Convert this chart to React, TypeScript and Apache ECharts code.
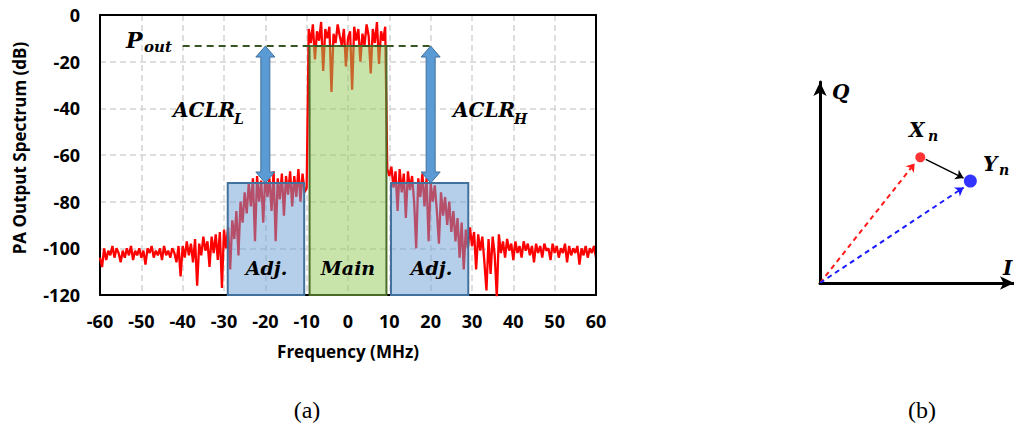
import React, { useEffect, useRef } from "react";
import * as echarts from "echarts";

// ---------- Panel (a): PA output spectrum, 0.5 MHz sample grid ----------
const FREQ_STEP = 0.5;

const farLeftStart = -60; // -60 .. -40.5
const farLeftDb = [-104, -108, -100, -105, -101, -103, -99, -104, -100, -102, -106, -101, -104, -100, -103, -99, -105, -101, -103, -100, -104, -101, -107, -100, -102, -99, -104, -101, -103, -100, -105, -99, -103, -101, -104, -100, -102, -106, -99, -112];

const nearLeftStart = -40; // -40 .. -30.5
const nearLeftDb = [-99, -104, -97, -103, -98, -106, -96, -116, -98, -103, -95, -101, -97, -108, -95, -102, -94, -105, -93, -117];

const adjLeftStart = -30; // -30 .. -10.5
const adjLeftDb = [-92, -100, -91, -109, -88, -96, -84, -103, -80, -89, -76, -85, -72, -82, -70, -97, -69, -80, -71, -89, -68, -78, -70, -84, -67, -97, -70, -79, -68, -86, -69, -77, -67, -82, -69, -78, -66, -80, -68, -76];

const mainStart = -10; // -10 .. 9
const mainDb = [-74, -6, -12, -4, -19, -7, -11, -3, -24, -6, -10, -5, -33, -8, -12, -4, -9, -13, -6, -22, -10, -7, -32, -5, -11, -6, -20, -8, -13, -4, -9, -25, -6, -12, -3, -21, -7, -11, -5];

const adjRightStart = 9.5; // 9.5 .. 29.5
const adjRightDb = [-66, -69, -65, -74, -67, -84, -66, -76, -68, -87, -67, -75, -69, -80, -100, -70, -78, -68, -82, -70, -97, -72, -80, -73, -84, -98, -76, -86, -78, -90, -80, -93, -84, -97, -87, -104, -89, -109, -92, -100, -91];

const farRightStart = 30; // 30 .. 60
const farRightDb = [-99, -93, -109, -94, -101, -95, -106, -118, -96, -111, -95, -103, -121, -94, -102, -97, -104, -96, -101, -98, -105, -97, -102, -99, -104, -97, -101, -98, -103, -99, -106, -98, -102, -99, -104, -98, -101, -100, -105, -98, -102, -99, -104, -100, -102, -98, -106, -99, -103, -100, -102, -99, -107, -100, -103, -99, -104, -100, -102, -99, -104];

const spectrumSegments: [number, number[]][] = [
  [farLeftStart, farLeftDb],
  [nearLeftStart, nearLeftDb],
  [adjLeftStart, adjLeftDb],
  [mainStart, mainDb],
  [adjRightStart, adjRightDb],
  [farRightStart, farRightDb],
];

// channel bands (MHz / dB)
const bandStarts = [-29.1, -9.3, 10.4];
const bandEnds = [-10.6, 9.3, 29.1];
const bandTops = [-72, -13.3, -72];
const bandBottom = -120;
const bandNames = ["Adj.", "Main", "Adj."];
const bandFills = ["rgba(107,157,211,0.5)", "rgba(146,201,85,0.5)", "rgba(107,157,211,0.5)"];
const bandStrokes = ["#41719c", "#4a6b2a", "#41719c"];

const poutDb = -13.3;
const poutRange = [-40, 20];
const aclrFreqs = [-20, 20];
const aclrBottom = -72;

const xTicks = { min: -60, max: 60, interval: 10 };
const yTicks = { min: -120, max: 0, interval: 20 };

// ---------- Panel (b): IQ vectors ----------
const origin = [0, 0];
const xnPoint = [5.17, 6.25];
const ynPoint = [7.75, 5.07];
const xnArrowEnd = [4.88, 5.95];
const ynArrowEnd = [7.4, 4.75];
const moveStart = [5.45, 6.15];
const moveEnd = [7.4, 5.22];

const MATH_FONT = "DejaVu Serif";
const SANS = "Open Sans";

function mathText(text: string, x: number, y: number, size: number, align = "left") {
  return {
    type: "text",
    x,
    y,
    z: 100,
    style: {
      text,
      fill: "#000",
      fontFamily: MATH_FONT,
      fontWeight: "bold",
      fontStyle: "italic",
      fontSize: size,
      textAlign: align,
      textVerticalAlign: "middle",
      verticalAlign: "middle",
    },
  };
}

export default function App() {
  const ref = useRef<HTMLDivElement>(null);

  useEffect(() => {
    document.body.style.margin = "0";
    if (!ref.current) return;
    const chart = echarts.init(ref.current, undefined, { renderer: "svg" });

    const spectrum: number[][] = [];
    spectrumSegments.forEach(([start, vals]) => {
      vals.forEach((v, i) => spectrum.push([start + i * FREQ_STEP, v]));
    });

    const bandData = bandStarts.map((s, i) => [s, bandEnds[i], bandTops[i], bandBottom]);
    const arrowData = aclrFreqs.map((f) => [f, poutDb, aclrBottom]);

    const gridLine = { show: true, lineStyle: { color: "#d4d4d4", type: [6, 4], width: 1.5 } };
    const tickLabel = { color: "#000", fontFamily: SANS, fontWeight: "bold", fontSize: 18 };
    const frameAxis = {
      axisLine: { show: true, onZero: false, lineStyle: { color: "#000", width: 2 } },
      axisTick: { show: false },
      axisLabel: { show: false },
      splitLine: { show: false },
      z: 10,
    };
    const arrowAxis = {
      type: "value",
      gridIndex: 1,
      min: 0,
      max: 10,
      axisLine: { show: true, onZero: false, symbol: ["none", "arrow"], symbolSize: [10, 14], lineStyle: { color: "#000", width: 3 } },
      axisTick: { show: false },
      axisLabel: { show: false },
      splitLine: { show: false },
    };

    const option: any = {
      animation: false,
      backgroundColor: "#fff",
      grid: [
        { left: 100, top: 15, width: 496, height: 280 },
        { left: 820, top: 82, width: 200, height: 201 },
      ],
      xAxis: [
        {
          type: "value",
          gridIndex: 0,
          ...xTicks,
          axisLine: { show: true, onZero: false, lineStyle: { color: "#000", width: 2 } },
          axisTick: { show: false },
          axisLabel: { ...tickLabel, margin: 17, showMinLabel: true, showMaxLabel: true },
          splitLine: gridLine,
          name: "Frequency (MHz)",
          nameLocation: "middle",
          nameGap: 48,
          nameTextStyle: { color: "#000", fontFamily: SANS, fontWeight: "bold", fontSize: 17 },
        },
        arrowAxis,
        { type: "value", gridIndex: 0, position: "top", ...xTicks, ...frameAxis },
      ],
      yAxis: [
        {
          type: "value",
          gridIndex: 0,
          ...yTicks,
          axisLine: { show: true, onZero: false, lineStyle: { color: "#000", width: 2 } },
          axisTick: { show: false },
          axisLabel: { ...tickLabel, margin: 20, showMinLabel: true, showMaxLabel: true },
          splitLine: gridLine,
        },
        arrowAxis,
        { type: "value", gridIndex: 0, position: "right", ...yTicks, ...frameAxis },
      ],
      series: [
        {
          type: "line",
          xAxisIndex: 0,
          yAxisIndex: 0,
          data: spectrum,
          showSymbol: false,
          lineStyle: { color: "#ff0000", width: 2.3 },
          z: 2,
        },
        {
          type: "custom",
          xAxisIndex: 0,
          yAxisIndex: 0,
          data: bandData,
          z: 3,
          renderItem: (params: any, api: any) => {
            const p0 = api.coord([api.value(0), api.value(2)]);
            const p1 = api.coord([api.value(1), api.value(3)]);
            const i = params.dataIndex;
            return {
              type: "rect",
              shape: { x: p0[0], y: p0[1], width: p1[0] - p0[0], height: p1[1] - p0[1] },
              style: { fill: bandFills[i], stroke: bandStrokes[i], lineWidth: 2 },
            };
          },
        },
        {
          type: "line",
          xAxisIndex: 0,
          yAxisIndex: 0,
          data: poutRange.map((f) => [f, poutDb]),
          showSymbol: false,
          lineStyle: { color: "#375623", type: [7, 5], width: 2 },
          z: 4,
        },
        {
          type: "custom",
          xAxisIndex: 0,
          yAxisIndex: 0,
          data: arrowData,
          z: 5,
          renderItem: (params: any, api: any) => {
            const top = api.coord([api.value(0), api.value(1)]);
            const bot = api.coord([api.value(0), api.value(2)]);
            const cx = top[0];
            const t = top[1];
            const b = bot[1];
            const sw = 4.5;
            const hw = 9.5;
            const hl = 11;
            return {
              type: "polygon",
              shape: {
                points: [
                  [cx, t], [cx + hw, t + hl], [cx + sw, t + hl], [cx + sw, b - hl], [cx + hw, b - hl],
                  [cx, b], [cx - hw, b - hl], [cx - sw, b - hl], [cx - sw, t + hl], [cx - hw, t + hl],
                ],
              },
              style: { fill: "#5b9bd5", stroke: "#41719c", lineWidth: 1 },
            };
          },
        },
        // panel (b)
        {
          type: "lines",
          coordinateSystem: "cartesian2d",
          xAxisIndex: 1,
          yAxisIndex: 1,
          symbol: ["none", "arrow"],
          symbolSize: 8,
          z: 4,
          data: [
            { coords: [origin, xnArrowEnd], lineStyle: { color: "#ff1a1a", type: [5, 4], width: 2, opacity: 1 } },
            { coords: [origin, ynArrowEnd], lineStyle: { color: "#1a1aff", type: [5, 4], width: 2, opacity: 1 } },
            { coords: [moveStart, moveEnd], lineStyle: { color: "#000", type: "solid", width: 1.5, opacity: 1 } },
          ],
        },
        {
          type: "scatter",
          xAxisIndex: 1,
          yAxisIndex: 1,
          z: 5,
          data: [
            { value: xnPoint, symbolSize: 10, itemStyle: { color: "#ff0000" } },
            { value: ynPoint, symbolSize: 13, itemStyle: { color: "#0000ff" } },
          ],
        },
      ],
      graphic: [
        {
          type: "text",
          x: 19,
          y: 148,
          rotation: Math.PI / 2,
          style: {
            text: "PA Output Spectrum (dB)",
            fill: "#000",
            fontFamily: SANS,
            fontWeight: "bold",
            fontSize: 17,
            textAlign: "center",
            textVerticalAlign: "middle",
            verticalAlign: "middle",
          },
        },
        mathText("P", 126, 40, 22),
        mathText("out", 144, 47, 15),
        mathText("ACLR", 173, 110, 20),
        mathText("L", 234, 119, 14),
        mathText("ACLR", 453, 110, 20),
        mathText("H", 514, 119, 14),
        mathText(bandNames[0], 266.5, 268, 19, "center"),
        mathText(bandNames[1], 348, 268, 19, "center"),
        mathText(bandNames[2], 431.5, 268, 19, "center"),
        mathText("Q", 832, 92, 20),
        mathText("X", 909, 130, 20),
        mathText("n", 928, 136, 14),
        mathText("Y", 983, 164, 20),
        mathText("n", 999, 170, 14),
        mathText("I", 1003, 268, 20),
        {
          type: "text",
          x: 307,
          y: 410,
          style: { text: "(a)", fill: "#000", fontFamily: "Liberation Serif", fontSize: 24, textAlign: "center", textVerticalAlign: "middle", verticalAlign: "middle" },
        },
        {
          type: "text",
          x: 922,
          y: 410,
          style: { text: "(b)", fill: "#000", fontFamily: "Liberation Serif", fontSize: 24, textAlign: "center", textVerticalAlign: "middle", verticalAlign: "middle" },
        },
      ],
    };

    chart.setOption(option);
    return () => chart.dispose();
  }, []);

  return <div ref={ref} style={{ width: 1014, height: 425, overflow: "hidden" }} />;
}
